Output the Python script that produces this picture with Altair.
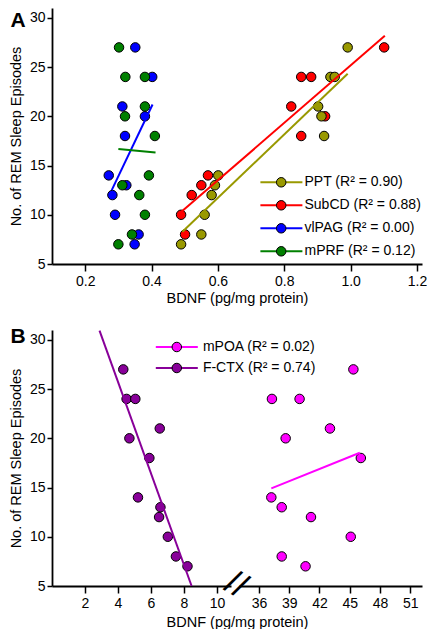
import altair as alt
import pandas as pd

FONT = "Liberation Sans"

# ---------------- Panel A data ----------------
a_series = ["PPT", "SubCD", "vlPAG", "mPRF"]
a_r2 = ["0.90", "0.88", "0.00", "0.12"]
a_colors = ["#999900", "#ff0000", "#0000ff", "#008000"]

ppt_x = [0.489, 0.550, 0.560, 0.581, 0.591, 0.601, 0.920, 0.912, 0.902, 0.939, 0.952, 0.991]
ppt_y = [7, 8, 10, 12, 13, 14, 18, 20, 21, 24, 24, 27]
subcd_x = [0.501, 0.489, 0.521, 0.550, 0.570, 0.851, 0.923, 0.821, 0.851, 0.881, 1.101]
subcd_y = [8, 10, 12, 13, 14, 18, 20, 21, 24, 24, 27]
vlpag_x = [0.349, 0.361, 0.290, 0.282, 0.324, 0.271, 0.320, 0.380, 0.312, 0.402, 0.351]
vlpag_y = [7, 8, 10, 12, 13, 14, 18, 20, 21, 24, 27]
mprf_x = [0.300, 0.341, 0.380, 0.363, 0.312, 0.392, 0.410, 0.320, 0.380, 0.321, 0.380, 0.302]
mprf_y = [7, 8, 10, 12, 13, 14, 18, 20, 21, 24, 24, 27]

# fitted regression lines (end points)
ppt_fit_x = [0.493, 0.991]
ppt_fit_y = [8.27, 24.33]
subcd_fit_x = [0.489, 1.103]
subcd_fit_y = [10.27, 28.17]
vlpag_fit_x = [0.280, 0.403]
vlpag_fit_y = [12.5, 21.2]
mprf_fit_x = [0.300, 0.412]
mprf_fit_y = [16.67, 16.33]

a_x_ticks = [0.2, 0.4, 0.6, 0.8, 1.0, 1.2]

# ---------------- Panel B data ----------------
b_series = ["mPOA", "F-CTX"]
b_r2 = ["0.02", "0.74"]
b_colors = ["#ff00ff", "#880099"]

mpoa_x = [45.36, 37.29, 40.03, 43.04, 38.65, 46.1, 37.23, 38.26, 41.16, 45.1, 38.26, 40.62]
mpoa_y = [27, 24, 24, 21, 20, 18, 14, 13, 12, 10, 8, 7]
fctx_x = [4.32, 4.52, 5.05, 4.69, 6.53, 5.90, 5.21, 6.57, 6.49, 7.02, 7.51, 8.21]
fctx_y = [27, 24, 24, 20, 21, 18, 14, 13, 12, 10, 8, 7]

mpoa_fit_x = [37.23, 46.0]
mpoa_fit_y = [14.92, 18.53]
fctx_fit_x = [2.88, 8.46]
fctx_fit_y = [30.93, 5.0]

b_x_ticks = [2, 4, 6, 8, 10, 36, 39, 42, 45, 48, 51]
y_ticks = [5, 10, 15, 20, 25, 30]


def label(s, r):
    return f"{s} (R\u00b2 = {r})"


a_labels = [label(s, r) for s, r in zip(a_series, a_r2)]
b_labels = [label(s, r) for s, r in zip(b_series, b_r2)]


def pts(name, lab, xs, ys):
    return pd.DataFrame({"series": name, "label": lab, "x": xs, "y": ys})


a_pts = pd.concat([
    pts("SubCD", a_labels[1], subcd_x, subcd_y),
    pts("PPT", a_labels[0], ppt_x, ppt_y),
    pts("vlPAG", a_labels[2], vlpag_x, vlpag_y),
    pts("mPRF", a_labels[3], mprf_x, mprf_y),
])
a_fit = pd.concat([
    pts("SubCD", a_labels[1], subcd_fit_x, subcd_fit_y),
    pts("PPT", a_labels[0], ppt_fit_x, ppt_fit_y),
    pts("vlPAG", a_labels[2], vlpag_fit_x, vlpag_fit_y),
    pts("mPRF", a_labels[3], mprf_fit_x, mprf_fit_y),
])
b_pts = pd.concat([
    pts("mPOA", b_labels[0], mpoa_x, mpoa_y),
    pts("F-CTX", b_labels[1], fctx_x, fctx_y),
])
b_fit = pd.concat([
    pts("mPOA", b_labels[0], mpoa_fit_x, mpoa_fit_y),
    pts("F-CTX", b_labels[1], fctx_fit_x, fctx_fit_y),
])

W, H = 370, 256
y_scale = alt.Scale(domain=[5, 31], nice=False, zero=False)
y_axis = alt.Axis(values=y_ticks, title="No. of REM Sleep Episodes", titlePadding=6,
                  labelPadding=2)


def panel(pts_df, fit_df, series, labels, colors, x_scale, x_axis,
          lx_line, lx_pt, ly, row_h, lab_off, letter, letter_xy):
    x = alt.X("x:Q", scale=x_scale, axis=x_axis)
    y = alt.Y("y:Q", scale=y_scale, axis=y_axis)
    points = alt.Chart(pts_df).mark_circle(
        size=90, opacity=1, stroke="black", strokeWidth=1
    ).encode(
        x=x, y=y,
        fill=alt.Fill("label:N", sort=None,
                      scale=alt.Scale(domain=labels, range=colors),
                      legend=alt.Legend(
                          title=None, orient="none", legendX=lx_pt, legendY=ly,
                          symbolType="circle", symbolSize=90,
                          symbolStrokeColor="black", symbolStrokeWidth=1,
                          symbolOpacity=1, clipHeight=row_h, rowPadding=0,
                          padding=0, labelOffset=lab_off, labelFont=FONT,
                          labelFontSize=14, labelColor="black", labelLimit=300,
                          zindex=2)),
    )
    lines = alt.Chart(fit_df).mark_line(strokeWidth=2).encode(
        x=x, y=y,
        color=alt.Color("series:N", sort=None,
                        scale=alt.Scale(domain=series, range=colors),
                        legend=alt.Legend(
                            title=None, orient="none", legendX=lx_line, legendY=ly,
                            symbolType="stroke", symbolSize=1764,
                            symbolStrokeWidth=2, clipHeight=row_h, rowPadding=0,
                            padding=0, labelExpr="''", labelOpacity=0,
                            zindex=1)),
        detail="series:N",
    )
    let = alt.Chart(pd.DataFrame({"t": [letter]})).mark_text(
        font=FONT, fontSize=21, fontWeight="bold", color="black",
        align="center", baseline="middle"
    ).encode(text="t:N", x=alt.value(letter_xy[0]), y=alt.value(letter_xy[1]))
    return [points, lines, let]


a_xaxis = alt.Axis(values=a_x_ticks, format=".1f", title="BDNF (pg/mg protein)",
                   labelPadding=3, titlePadding=3, labelOverlap=False, tickSize=7)
panel_a = alt.layer(*panel(
    a_pts, a_fit, a_series, a_labels, a_colors,
    alt.Scale(domain=[0.1, 1.215], nice=False, zero=False), a_xaxis,
    207.4, 222.2, 162.8, 23, 16.3, "A", (-34, 13),
)).properties(width=W, height=H)

# broken x axis: piecewise scale, the gap 11.12..33.68 collapses to one point
b_break = [11.12, 33.68]
b_xscale = alt.Scale(domain=[0, b_break[0], b_break[1], 52.16],
                     range=[0, 183.5, 183.5, W], nice=False, zero=False)
b_xaxis = alt.Axis(values=b_x_ticks, format="d", title="BDNF (pg/mg protein)",
                   labelPadding=3, titlePadding=5, labelOverlap=False, tickSize=7)

brk_df = pd.DataFrame({"x": [b_break[0]], "y": [5], "t": ["//"]})
brk_x = alt.X("x:Q", scale=b_xscale, axis=b_xaxis)
brk_y = alt.Y("y:Q", scale=y_scale, axis=y_axis)
gap = alt.Chart(brk_df).mark_rect(width=8, height=5, color="white").encode(
    x=brk_x, y=brk_y)
brk = alt.Chart(brk_df).mark_text(
    font=FONT, fontSize=34, color="black", angle=30, align="center",
    baseline="middle", dy=-1
).encode(x=brk_x, y=brk_y, text="t:N")

panel_b = alt.layer(*panel(
    b_pts, b_fit, b_series, b_labels, b_colors, b_xscale, b_xaxis,
    102.8, 117.8, 6.5, 21, 19.1, "B", (-34, 7),
), gap, brk).properties(width=W, height=H)

chart = alt.vconcat(panel_a, panel_b, spacing=21).resolve_scale(
    fill="independent", color="independent"
).resolve_legend(
    fill="independent", color="independent"
).properties(padding=0).configure_view(
    stroke=None
).configure_axis(
    grid=False, domainColor="black", domainWidth=1.8, tickColor="black",
    tickWidth=1.5, labelFont=FONT, labelFontSize=14,
    labelColor="black", titleFont=FONT, titleFontSize=14.5,
    titleFontWeight="normal", titleColor="black",
)

chart.save("out.html", embed_options={"renderer": "svg", "actions": False})
